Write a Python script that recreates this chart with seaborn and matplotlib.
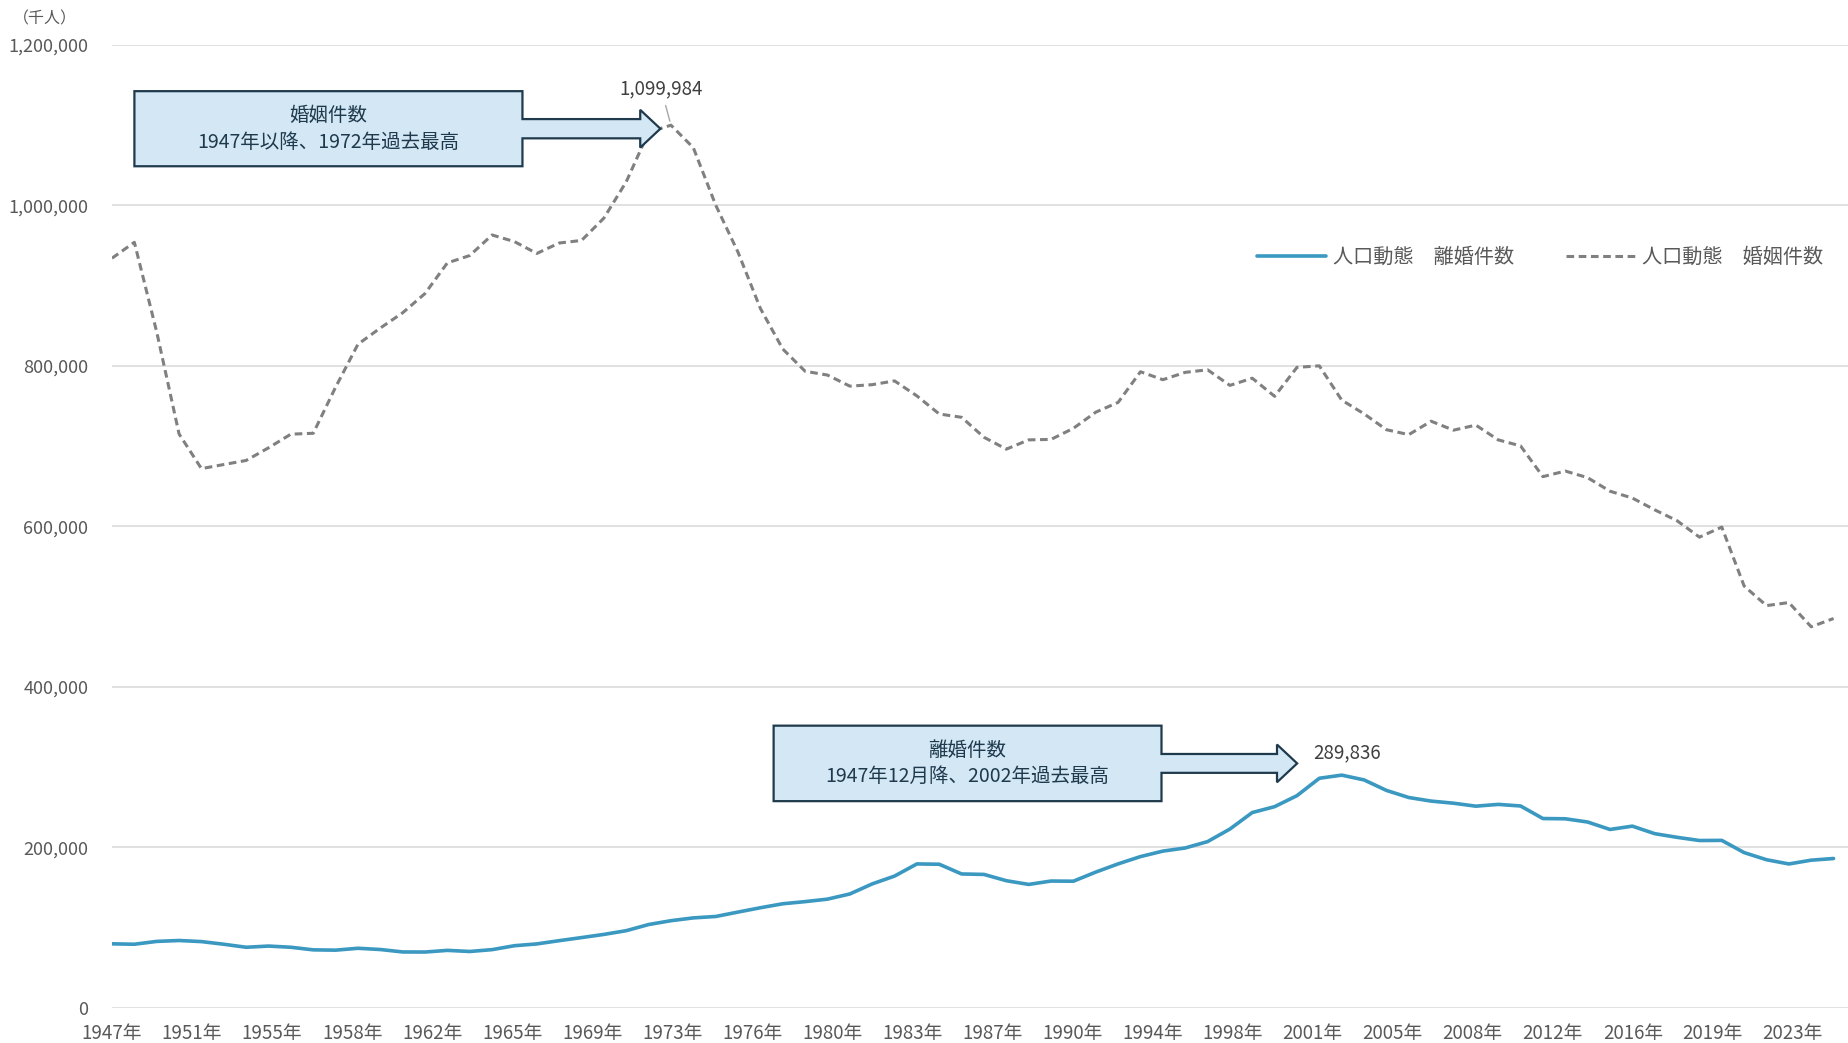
import numpy as np
import pandas as pd
import matplotlib
matplotlib.use("Agg")
import matplotlib.pyplot as plt
from matplotlib.patches import Polygon
import seaborn as sns

# Data: vital statistics, marriages and divorces per year
years = list(range(1947, 2025))

divorces = [79551, 79032, 82575, 83689, 82331, 79021, 75255, 76759, 75267, 72040,
            71651, 74004, 72455, 69410, 69323, 71394, 69996, 72306, 77195, 79432,
            83478, 87327, 91280, 95937, 103595, 108382, 111877, 113622, 119135, 124512,
            129485, 132146, 135250, 141689, 154221, 163980, 179150, 178746, 166640, 166054,
            158227, 153600, 157811, 157608, 168969, 179191, 188297, 195106, 199016, 206955,
            222635, 243183, 250529, 264246, 285911, 289836, 283854, 270804, 261917, 257475,
            254832, 251136, 253353, 251378, 235719, 235406, 231383, 222107, 226238, 216856,
            212296, 208333, 208496, 193253, 184384, 179099, 183814, 185895]

marriages = [934170, 953999, 842170, 715081, 671905, 676995, 682077, 697809, 714861, 715934,
             773362, 826902, 847135, 866115, 890158, 928341, 937516, 963130, 954852, 940120,
             953096, 956312, 984142, 1029405, 1091229, 1099984, 1071923, 1000455, 941628, 871543,
             821029, 793257, 788505, 774702, 776531, 781252, 762552, 739991, 735850, 710962,
             696173, 707716, 708316, 722138, 742264, 754441, 792658, 782738, 791888, 795080,
             775651, 784595, 762028, 798138, 799999, 757331, 740191, 720417, 714265, 730971,
             719822, 726106, 707734, 700222, 661895, 668869, 660613, 643749, 635225, 620531,
             606952, 586481, 599007, 525507, 501138, 504930, 474741, 485063]

xtick_labels = ["1947年", "1951年", "1955年", "1958年", "1962年", "1965年", "1969年", "1973年",
                "1976年", "1980年", "1983年", "1987年", "1990年", "1994年", "1998年", "2001年",
                "2005年", "2008年", "2012年", "2016年", "2019年", "2023年"]

yticks = [0, 200000, 400000, 600000, 800000, 1000000, 1200000]

divorce_label = "人口動態　離婚件数"
marriage_label = "人口動態　婚姻件数"

df = pd.DataFrame({"year": years, "divorce": divorces, "marriage": marriages})

sns.set_theme(style="white")
plt.rcParams['font.family'] = ['Noto Sans CJK JP', 'DejaVu Sans']

text_gray = "#595959"
navy = "#1E3A4C"
blue = "#3A98C1"
gray = "#808080"

fig = plt.figure(figsize=(18.49, 10.43), dpi=100)
ax = fig.add_axes([112 / 1849, 0.0339, 1737 / 1849, 0.923])

sns.lineplot(data=df, x="year", y="divorce", ax=ax, color=blue, lw=2.6,
             label=divorce_label)
sns.lineplot(data=df, x="year", y="marriage", ax=ax, color=gray, lw=2.2,
             linestyle=(0, (2.5, 1.5)), label=marriage_label)

ax.set_xlim(1947, 2024.69)
ax.set_ylim(0, 1200000)
ax.set_yticks(yticks)
ax.set_yticklabels([f"{v:,}" for v in yticks])
ax.set_xticks(1947 + 3.58 * np.arange(len(xtick_labels)))
ax.set_xticklabels(xtick_labels)
ax.set_xlabel("")
ax.set_ylabel("")
ax.tick_params(axis="y", length=0, pad=17, labelsize=13, labelcolor=text_gray)
ax.tick_params(axis="x", length=0, pad=11, labelsize=13.5, labelcolor=text_gray)
ax.grid(axis="y", color="#D9D9D9", lw=1.1)
ax.grid(axis="x", visible=False)
for s in ax.spines.values():
    s.set_visible(False)
ax.set_clip_on(False)

leg = ax.legend(loc="center left", bbox_to_anchor=(0.649, 0.779), ncol=2, frameon=False,
                fontsize=14.5, handlelength=3.4, handletextpad=0.35, columnspacing=2.6)
for t in leg.get_texts():
    t.set_color(text_gray)

fig.text(0.0242, 0.982, "（千人）", ha="center", va="center", fontsize=11.5, color=text_gray)


# block-arrow callouts (axes fraction coords)
def callout(L, R, T, B, st, sb, ht, hb, hx, tx, ty, text):
    pts = [(L, T), (R, T), (R, st), (hx, st), (hx, ht), (tx, ty), (hx, hb),
           (hx, sb), (R, sb), (R, B), (L, B)]
    ax.add_patch(Polygon(pts, closed=True, transform=ax.transAxes, facecolor="#D3E7F5",
                         edgecolor=navy, lw=1.6, joinstyle="miter", zorder=5))
    ax.text((L + R) / 2, (T + B) / 2, text, transform=ax.transAxes, ha="center",
            va="center", fontsize=14, color=navy, linespacing=1.35, zorder=6)


callout(0.0129, 0.2363, 0.952, 0.874, 0.923, 0.903, 0.9326, 0.8934, 0.3041, 0.3157, 0.913,
        "婚姻件数\n1947年以降、1972年過去最高")
callout(0.3809, 0.6042, 0.2929, 0.2145, 0.2635, 0.2439, 0.2733, 0.2341, 0.6707, 0.6823, 0.2537,
        "離婚件数\n1947年12月降、2002年過去最高")

# peak data labels
i_m = int(np.argmax(marriages))
ax.annotate(f"{marriages[i_m]:,}", xy=(years[i_m], marriages[i_m]), xytext=(-7, 26),
            textcoords="offset points", ha="center", va="center", fontsize=13.5,
            color="#404040", zorder=7,
            arrowprops=dict(arrowstyle="-", color="#A6A6A6", lw=1, shrinkA=2, shrinkB=3))
i_d = int(np.argmax(divorces))
ax.annotate(f"{divorces[i_d]:,}", xy=(years[i_d], divorces[i_d]), xytext=(4, 16),
            textcoords="offset points", ha="center", va="center", fontsize=13.5,
            color="#404040", zorder=7)

fig.savefig("out.png", dpi=100)
